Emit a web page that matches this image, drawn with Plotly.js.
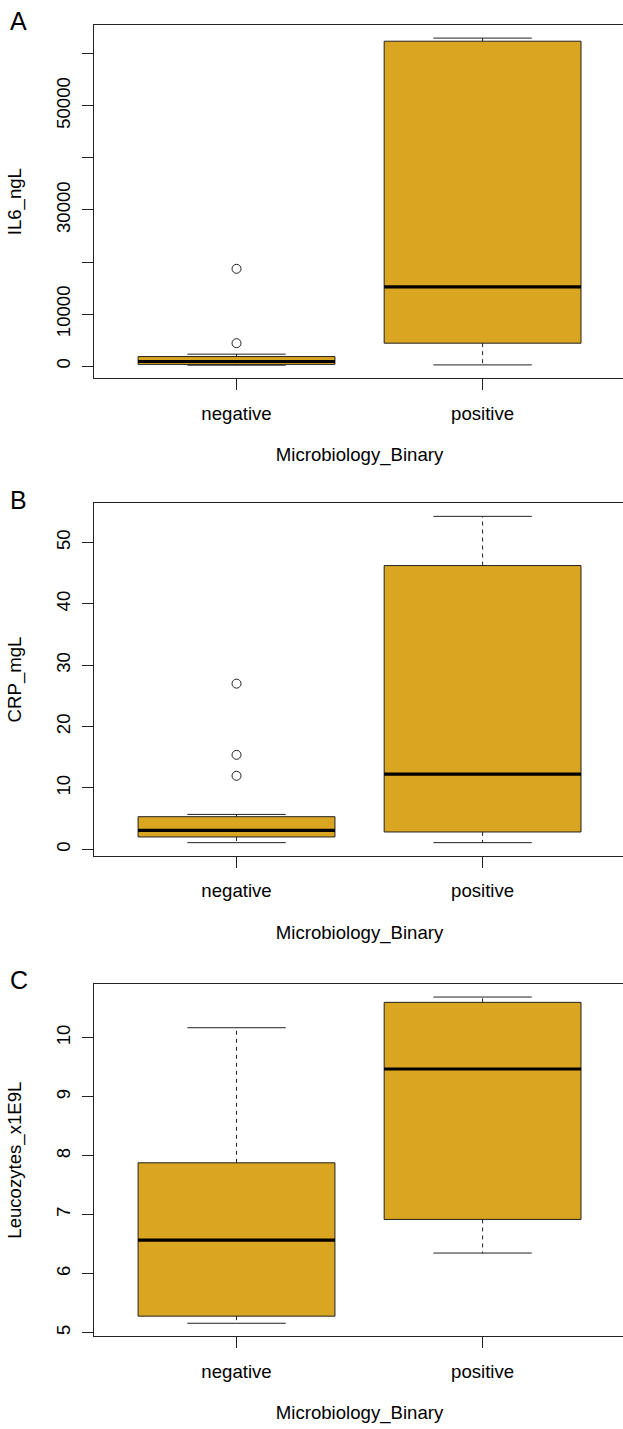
<!DOCTYPE html>
<html>
<head>
<meta charset="utf-8">
<script src="https://cdn.plot.ly/plotly-3.0.1.min.js"></script>
<style>
html, body { margin: 0; padding: 0; background: #ffffff; overflow: hidden; }
#wrap { width: 623px; height: 1429px; overflow: hidden; }
#chart { width: 626px; height: 1429px; }
</style>
</head>
<body>
<div id="wrap"><div id="chart"></div></div>
<script>
// ---------- data ----------
const categories = ['negative', 'positive'];
const panelLetters = ['A', 'B', 'C'];
const yTitles = ['IL6_ngL', 'CRP_mgL', 'Leucozytes_x1E9L'];
const xTitle = 'Microbiology_Binary';

// Panel A: IL6 (ng/L)
const il6LowerWhisker = [190, 250];
const il6Q1 = [350, 4420];
const il6Median = [900, 15250];
const il6Q3 = [1850, 62400];
const il6UpperWhisker = [2310, 63000];
const il6Outliers = [[18700, 4420], []];
const il6TickVals = [0, 10000, 20000, 30000, 40000, 50000, 60000];
const il6TickText = ['0', '10000', '', '30000', '', '50000', ''];

// Panel B: CRP (mg/L)
const crpLowerWhisker = [1.09, 1.09];
const crpQ1 = [2.02, 2.83];
const crpMedian = [3.09, 12.26];
const crpQ3 = [5.32, 46.24];
const crpUpperWhisker = [5.69, 54.26];
const crpOutliers = [[27.0, 15.4, 11.98], []];
const crpTickVals = [0, 10, 20, 30, 40, 50];
const crpTickText = ['0', '10', '20', '30', '40', '50'];

// Panel C: Leucozytes (x1E9/L)
const leuLowerWhisker = [5.16, 6.35];
const leuQ1 = [5.28, 6.92];
const leuMedian = [6.57, 9.47];
const leuQ3 = [7.88, 10.60];
const leuUpperWhisker = [10.17, 10.69];
const leuOutliers = [[], []];
const leuTickVals = [5, 6, 7, 8, 9, 10];
const leuTickText = ['5', '6', '7', '8', '9', '10'];

// ---------- build ----------
const panels = [
  {lw: il6LowerWhisker, q1: il6Q1, med: il6Median, q3: il6Q3, uw: il6UpperWhisker, out: il6Outliers, tv: il6TickVals, tt: il6TickText},
  {lw: crpLowerWhisker, q1: crpQ1, med: crpMedian, q3: crpQ3, uw: crpUpperWhisker, out: crpOutliers, tv: crpTickVals, tt: crpTickText},
  {lw: leuLowerWhisker, q1: leuQ1, med: leuMedian, q3: leuQ3, uw: leuUpperWhisker, out: leuOutliers, tv: leuTickVals, tt: leuTickText}
];

const W = 626, H = 1429;
const panelPx = [[25, 378.3], [503.3, 855.7], [984, 1336.3]];  // plot top/bottom in px
const letterPx = [[18, 20.8], [18, 500], [19, 979.6]];
const FONT = 'Liberation Sans, Arial, Helvetica, sans-serif';
const FS = 18.6;
const LINE = '#222222';
const FILL = '#DAA520';
const boxW = 0.8;
const positions = categories.map((c, i) => i + 1);

const traces = [];
const layout = {
  width: W, height: H,
  margin: {l: 0, r: 0, t: 0, b: 0},
  paper_bgcolor: '#ffffff', plot_bgcolor: '#ffffff',
  showlegend: false,
  font: {family: FONT, color: '#000000', size: FS},
  annotations: []
};

panels.forEach((p, i) => {
  const sfx = i === 0 ? '' : String(i + 1);
  const xa = 'x' + sfx, ya = 'y' + sfx;

  // box body (whiskers drawn separately, dashed as in R)
  traces.push({
    type: 'box', xaxis: xa, yaxis: ya,
    x: positions, q1: p.q1, median: p.med, q3: p.q3,
    lowerfence: p.q1, upperfence: p.q3,
    width: boxW, whiskerwidth: 0, boxpoints: false,
    fillcolor: FILL, line: {color: LINE, width: 1},
    hoverinfo: 'skip'
  });

  const wx = [], wy = [], cx = [], cy = [], mx = [], my = [], ox = [], oy = [];
  positions.forEach((pos, k) => {
    wx.push(pos, pos, null, pos, pos, null);
    wy.push(p.q3[k], p.uw[k], null, p.q1[k], p.lw[k], null);
    cx.push(pos - boxW / 4, pos + boxW / 4, null, pos - boxW / 4, pos + boxW / 4, null);
    cy.push(p.uw[k], p.uw[k], null, p.lw[k], p.lw[k], null);
    mx.push(pos - boxW / 2, pos + boxW / 2, null);
    my.push(p.med[k], p.med[k], null);
    p.out[k].forEach(v => { ox.push(pos); oy.push(v); });
  });
  traces.push({type: 'scatter', mode: 'lines', xaxis: xa, yaxis: ya, x: wx, y: wy,
    line: {color: LINE, width: 1, dash: '4px,4px'}, hoverinfo: 'skip'});
  traces.push({type: 'scatter', mode: 'lines', xaxis: xa, yaxis: ya, x: cx, y: cy,
    line: {color: LINE, width: 1}, hoverinfo: 'skip'});
  traces.push({type: 'scatter', mode: 'lines', xaxis: xa, yaxis: ya, x: mx, y: my,
    line: {color: '#000000', width: 3.2}, hoverinfo: 'skip'});
  if (ox.length) {
    traces.push({type: 'scatter', mode: 'markers', xaxis: xa, yaxis: ya, x: ox, y: oy,
      marker: {symbol: 'circle-open', size: 9, color: LINE, line: {width: 1, color: LINE}}, hoverinfo: 'skip'});
  }

  // R-style 4% extended y range
  const all = p.lw.concat(p.uw, ...p.out);
  const lo = Math.min(...all), hi = Math.max(...all);
  const pad = (hi - lo) * 0.04;

  const top = panelPx[i][0], bot = panelPx[i][1];
  const dom = [1 - bot / H, 1 - top / H];

  layout['xaxis' + sfx] = {
    anchor: ya, domain: [93.8 / W, 625.3 / W], range: [0.42, 2.58],
    tickmode: 'array', tickvals: positions, ticktext: categories,
    ticks: 'outside', ticklen: 11, tickwidth: 1, tickcolor: LINE,
    showline: true, mirror: true, linecolor: LINE, linewidth: 1,
    showgrid: false, zeroline: false, ticklabelstandoff: 7,
    tickfont: {size: FS, family: FONT, color: '#000'},
    title: {text: xTitle, standoff: 25, font: {size: FS, family: FONT, color: '#000'}}
  };
  layout['yaxis' + sfx] = {
    anchor: xa, domain: dom, range: [lo - pad, hi + pad],
    tickmode: 'array', tickvals: p.tv, ticktext: p.tt, tickangle: -90,
    ticks: 'outside', ticklen: 11, tickwidth: 1, tickcolor: LINE,
    showline: true, mirror: true, linecolor: LINE, linewidth: 1,
    showgrid: false, zeroline: false, ticklabelstandoff: 4,
    tickfont: {size: FS, family: FONT, color: '#000'},
    title: {text: yTitles[i], standoff: 26, font: {size: FS, family: FONT, color: '#000'}}
  };

  layout.annotations.push({
    text: panelLetters[i], xref: 'paper', yref: 'paper',
    x: letterPx[i][0] / W, y: 1 - letterPx[i][1] / H, xanchor: 'center', yanchor: 'middle',
    showarrow: false, font: {size: 25, family: FONT, color: '#000'}
  });
});

Plotly.newPlot('chart', traces, layout, {displayModeBar: false, staticPlot: true});
</script>
</body>
</html>
